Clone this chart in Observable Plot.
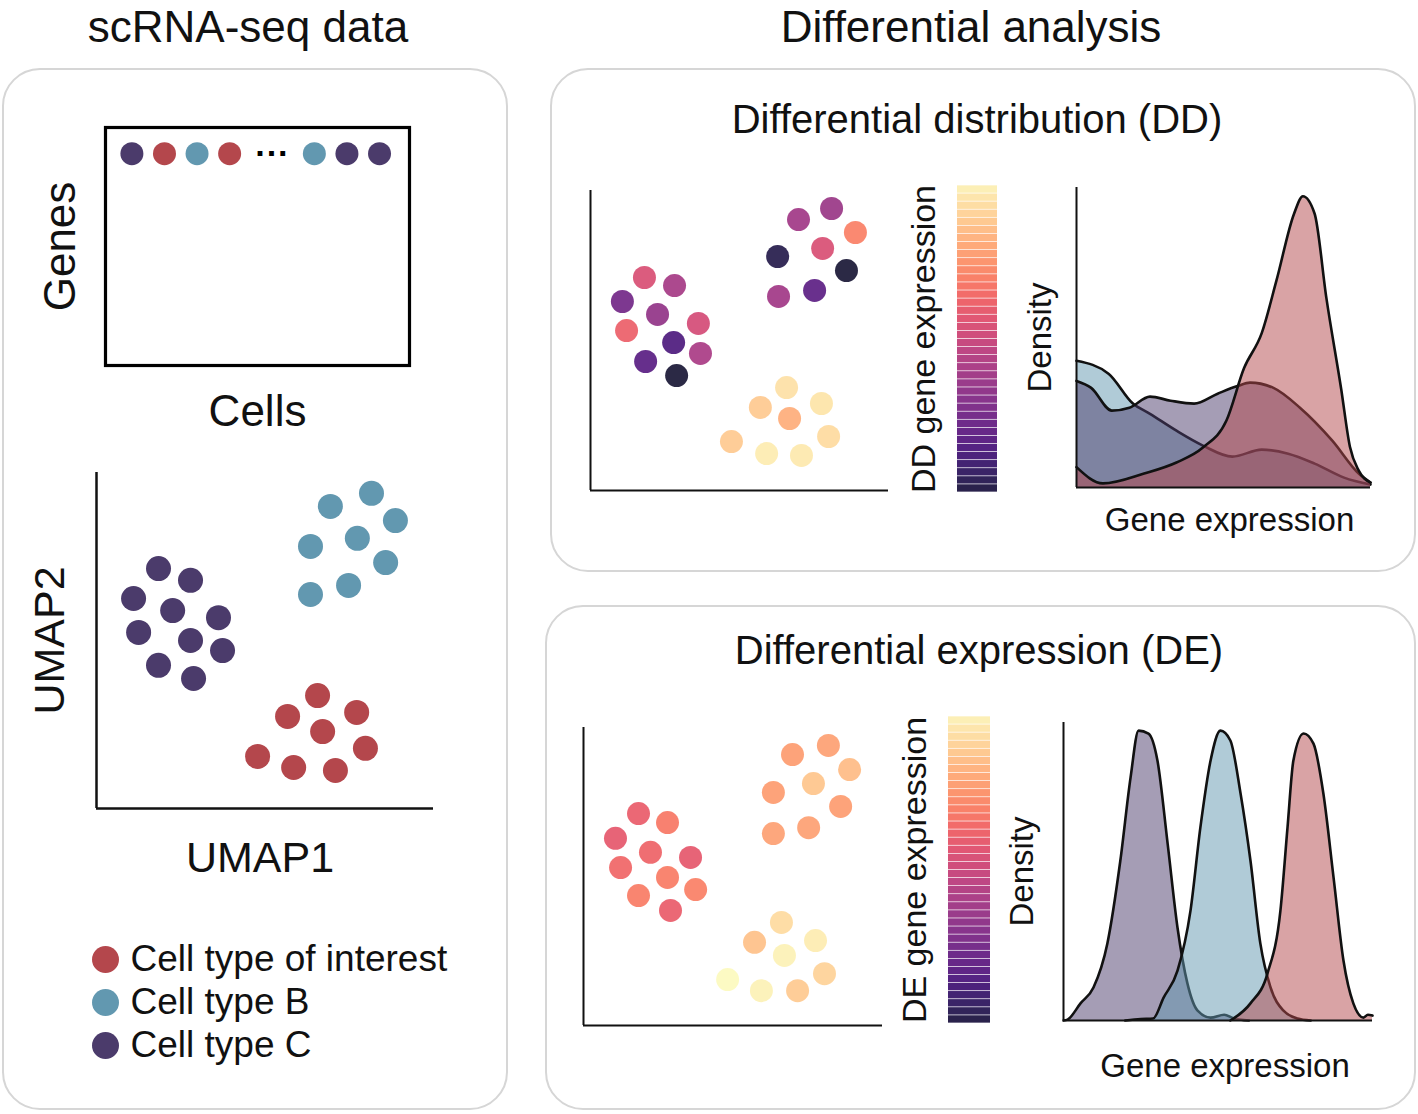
<!DOCTYPE html>
<html><head><meta charset="utf-8">
<script src="https://cdn.jsdelivr.net/npm/d3@7"></script>
<script src="https://cdn.jsdelivr.net/npm/@observablehq/plot@0.6"></script>
<style>
html,body{margin:0;padding:0;background:#fff;}
#fig{position:relative;width:1418px;height:1114px;overflow:hidden;font-family:"Liberation Sans",Arial,Helvetica,sans-serif;color:#111;background:#fff;}
.panel{position:absolute;border:2px solid #d6d6d6;border-radius:38px;box-sizing:border-box;}
.title{position:absolute;transform:translate(-50%,-50%);white-space:nowrap;line-height:1.15;}
.chart{position:absolute;}
.chart svg{overflow:visible;display:block;}
</style></head><body><div id="fig"></div>
<script>
// ---------------- data ----------------
const cellTypes = ["Cell type of interest", "Cell type B", "Cell type C"];
const cellColors = ["#b4474c", "#6298b0", "#4b3b6b"];

// first row of the gene x cell matrix
const matrixCellType = ["Cell type C", "Cell type of interest", "Cell type B", "Cell type of interest", "Cell type B", "Cell type C", "Cell type C"];
const matrixCellIndex = [0, 1, 2, 3, 5.6, 6.6, 7.6];

// UMAP embedding (arbitrary units 0-10)
const umapX = [1.84, 2.79, 1.10, 2.26, 3.62, 1.25, 2.79, 3.74, 1.84, 2.88,
               8.16, 6.94, 8.87, 6.35, 7.74, 8.58, 6.35, 7.48,
               6.56, 5.67, 7.72, 6.71, 7.98, 4.78, 5.85, 7.09];
const umapY = [7.14, 6.79, 6.25, 5.89, 5.68, 5.24, 5.00, 4.70, 4.26, 3.87,
               9.38, 8.99, 8.57, 7.80, 8.04, 7.32, 6.37, 6.64,
               3.36, 2.74, 2.86, 2.29, 1.79, 1.55, 1.22, 1.13];
const umapType = [
  "Cell type C","Cell type C","Cell type C","Cell type C","Cell type C","Cell type C","Cell type C","Cell type C","Cell type C","Cell type C",
  "Cell type B","Cell type B","Cell type B","Cell type B","Cell type B","Cell type B","Cell type B","Cell type B",
  "Cell type of interest","Cell type of interest","Cell type of interest","Cell type of interest","Cell type of interest","Cell type of interest","Cell type of interest","Cell type of interest"];

// DD panel scatter
const ddX = [1.81, 2.82, 1.07, 2.25, 3.62, 1.21, 2.79, 3.69, 1.85, 2.89,
             8.09, 6.98, 8.89, 7.79, 6.28, 8.59, 6.31, 7.52,
             6.58, 5.70, 7.75, 6.68, 7.99, 4.73, 5.91, 7.08];
const ddY = [7.10, 6.83, 6.30, 5.87, 5.57, 5.33, 4.93, 4.57, 4.30, 3.83,
             9.40, 9.03, 8.60, 8.07, 7.80, 7.33, 6.47, 6.67,
             3.43, 2.77, 2.90, 2.40, 1.80, 1.63, 1.23, 1.17];
const ddExpr = [0.58, 0.45, 0.32, 0.40, 0.57, 0.64, 0.22, 0.46, 0.25, 0.08,
                0.42, 0.44, 0.72, 0.58, 0.12, 0.08, 0.44, 0.26,
                0.93, 0.88, 0.94, 0.82, 0.92, 0.88, 0.96, 0.95];

// DE panel scatter
const deX = [1.84, 2.81, 1.07, 2.24, 3.58, 1.24, 2.81, 3.75, 1.84, 2.91,
             8.19, 6.99, 8.90, 7.69, 6.35, 8.60, 6.35, 7.53,
             6.62, 5.72, 7.76, 6.72, 8.06, 4.82, 5.95, 7.16];
const deY = [7.11, 6.81, 6.28, 5.81, 5.64, 5.30, 4.97, 4.56, 4.36, 3.86,
             9.40, 9.09, 8.59, 8.12, 7.82, 7.35, 6.44, 6.64,
             3.46, 2.79, 2.85, 2.35, 1.74, 1.54, 1.17, 1.17];
const deExpr = [0.63, 0.70, 0.62, 0.65, 0.62, 0.66, 0.71, 0.72, 0.71, 0.63,
                0.79, 0.78, 0.85, 0.87, 0.78, 0.78, 0.79, 0.79,
                0.92, 0.86, 0.96, 0.97, 0.90, 0.99, 0.97, 0.88];

// density curves [gene expression, density]
const ddDensityB = [[0,0.435],[0.11,0.39],[0.19,0.29],[0.25,0.253],[0.34,0.195],[0.43,0.144],[0.53,0.106],[0.63,0.13],[0.72,0.116],[0.81,0.082],[0.91,0.034],[1.0,0.01]];
const ddDensityC = [[0,0.366],[0.05,0.342],[0.12,0.264],[0.18,0.274],[0.25,0.312],[0.32,0.298],[0.40,0.288],[0.48,0.322],[0.55,0.349],[0.59,0.36],[0.67,0.342],[0.76,0.274],[0.87,0.161],[0.96,0.048],[1.0,0.017]];
const ddDensityInterest = [[0,0.07],[0.09,0.014],[0.23,0.048],[0.34,0.086],[0.43,0.137],[0.51,0.23],[0.57,0.41],[0.63,0.53],[0.68,0.71],[0.74,0.94],[0.77,1.0],[0.81,0.94],[0.85,0.65],[0.9,0.34],[0.93,0.14],[0.96,0.058],[1.0,0.017]];

const deDensityC = [[0,0],[0.013,0.003],[0.055,0.059],[0.097,0.114],[0.142,0.266],[0.184,0.552],[0.217,0.838],[0.243,1.0],[0.275,0.99],[0.304,0.897],[0.337,0.61],[0.369,0.32],[0.401,0.128],[0.434,0.034],[0.476,0.01],[0.52,0.02],[0.55,0.008],[0.6,0]];
const deDensityB = [[0.2,0],[0.25,0.005],[0.29,0.007],[0.324,0.079],[0.369,0.172],[0.411,0.379],[0.443,0.666],[0.476,0.897],[0.508,1.0],[0.54,0.966],[0.573,0.783],[0.605,0.552],[0.637,0.266],[0.67,0.114],[0.712,0.034],[0.757,0.007],[0.8,0]];
const deDensityInterest = [[0.54,0],[0.605,0.059],[0.66,0.162],[0.702,0.379],[0.725,0.666],[0.744,0.897],[0.777,0.99],[0.809,0.955],[0.841,0.783],[0.874,0.493],[0.906,0.207],[0.938,0.059],[0.971,0.01],[0.985,0.02],[1.0,0.017]];

// ---------------- helpers ----------------
const fig = document.getElementById("fig");
const FONT = '"Liberation Sans", Arial, Helvetica, sans-serif';
const baseStyle = {fontFamily: FONT, color: "#111", background: "transparent", overflow: "visible"};
function place(node, left, top) {
  const d = document.createElement("div");
  d.className = "chart";
  d.style.left = left + "px"; d.style.top = top + "px";
  d.appendChild(node); fig.appendChild(d);
}
function panel(left, top, w, h) {
  const d = document.createElement("div");
  d.className = "panel";
  Object.assign(d.style, {left: left + "px", top: top + "px", width: w + "px", height: h + "px"});
  fig.appendChild(d);
}
function title(text, cx, cy, size) {
  const d = document.createElement("div");
  d.className = "title"; d.textContent = text;
  Object.assign(d.style, {left: cx + "px", top: cy + "px", fontSize: size + "px"});
  fig.appendChild(d);
}
const typeColor = {domain: cellTypes, range: cellColors};
const zip = (xs, ys, zs) => xs.map((x, i) => ({x, y: ys[i], z: zs[i]}));
// axis-title helpers (centred on the frame side)
const leftLabel = (s, dx, size, dy = 0) => Plot.text([s], {frameAnchor: "left", dx, dy, rotate: -90, text: d => d, fontSize: size, textAnchor: "middle", lineAnchor: "middle"});
const bottomLabel = (s, dy, size, dx = 0) => Plot.text([s], {frameAnchor: "bottom", dx, dy, text: d => d, fontSize: size, textAnchor: "middle", lineAnchor: "middle"});

// ---------------- panels & titles ----------------
panel(2, 68, 506, 1042);
panel(550, 68, 866, 504);
panel(545, 605, 871, 505);
title("scRNA-seq data", 248, 27, 44);
title("Differential analysis", 971, 27, 44);
title("Differential distribution (DD)", 977, 119, 40);
title("Differential expression (DE)", 979, 650, 40);

// ---------------- gene x cell matrix ----------------
const matrixRow = matrixCellIndex.map((c, i) => ({c, t: matrixCellType[i]}));
place(Plot.plot({
  width: 400, height: 340, marginLeft: 85, marginRight: 11, marginTop: 17, marginBottom: 85,
  style: baseStyle,
  x: {domain: [-0.81, 8.52], axis: null},
  y: {domain: [0, 1], reverse: true, axis: null},
  color: typeColor,
  marks: [
    Plot.frame({stroke: "#000", strokeWidth: 3.2}),
    Plot.dot(matrixRow, {x: "c", y: () => 0.11, fill: "t", r: 11.5}),
    Plot.text(["···"], {x: () => 4.31, y: () => 0.11, text: d => d, fontSize: 34, fontWeight: "bold", fill: "#000"}),
    bottomLabel("Cells", 46, 44),
    leftLabel("Genes", -45, 44)
  ]
}), 20, 110);

// ---------------- UMAP ----------------
place(Plot.plot({
  width: 440, height: 420, marginLeft: 76, marginRight: 27, marginTop: 12, marginBottom: 72,
  style: baseStyle,
  x: {domain: [0, 10], axis: null}, y: {domain: [0, 10], axis: null},
  color: typeColor,
  marks: [
    Plot.ruleX([0], {stroke: "#111", strokeWidth: 2.5}),
    Plot.ruleY([0], {stroke: "#111", strokeWidth: 2.5}),
    Plot.dot(zip(umapX, umapY, umapType), {x: "x", y: "y", fill: "z", r: 12.5}),
    bottomLabel("UMAP1", 50, 43, -5),
    leftLabel("UMAP2", -46, 43)
  ]
}), 20, 460);

// ---------------- legend ----------------
place(Plot.plot({
  width: 400, height: 140, marginLeft: 25, marginRight: 10, marginTop: 28, marginBottom: 25,
  style: baseStyle,
  x: {domain: [0, 1], axis: null},
  y: {type: "point", domain: cellTypes, padding: 0, axis: null},
  color: typeColor,
  marks: [
    Plot.dot(cellTypes, {x: () => 0, y: d => d, fill: d => d, r: 13.5}),
    Plot.text(cellTypes, {x: () => 0, y: d => d, text: d => d, dx: 25, textAnchor: "start", fontSize: 37})
  ]
}), 80, 930);

// ---------------- expression scatter + colorbar ----------------
const magma = {type: "linear", scheme: "magma", domain: [0, 1]};
function exprScatter(xs, ys, vs, w, h, m) {
  return Plot.plot({
    width: w, height: h, ...m, style: baseStyle,
    x: {domain: [0, 10], axis: null}, y: {domain: [0, 10], axis: null},
    color: magma,
    marks: [
      Plot.ruleX([0], {stroke: "#111", strokeWidth: 2}),
      Plot.ruleY([0], {stroke: "#111", strokeWidth: 2}),
      Plot.dot(zip(xs, ys, vs), {x: "x", y: "y", fill: "z", r: 11.5, fillOpacity: 0.88})
    ]
  });
}
function colorbar(label, w, h, m, dx) {
  const n = 38;
  const bands = d3.range(n).map(i => ({lo: i / n, hi: (i + 1) / n, v: 0.1 + 0.88 * (i + 0.5) / n}));
  return Plot.plot({
    width: w, height: h, ...m, style: baseStyle,
    x: {domain: [0, 1], axis: null}, y: {domain: [0, 1], axis: null},
    color: magma,
    marks: [
      Plot.rect(bands, {x1: () => 0, x2: () => 1, y1: "lo", y2: "hi", fill: "v", fillOpacity: 0.92, insetTop: 0.35, insetBottom: 0.35}),
      leftLabel(label, dx, 34)
    ]
  });
}
place(exprScatter(ddX, ddY, ddExpr, 330, 330, {marginLeft: 20, marginRight: 12, marginTop: 15, marginBottom: 15}), 570, 175);
place(colorbar("DD gene expression", 110, 320, {marginLeft: 62, marginRight: 8, marginTop: 5, marginBottom: 8}, -33), 895, 180);
place(exprScatter(deX, deY, deExpr, 330, 330, {marginLeft: 18, marginRight: 13, marginTop: 15, marginBottom: 17}), 565, 712);
place(colorbar("DE gene expression", 110, 320, {marginLeft: 63, marginRight: 5, marginTop: 5, marginBottom: 8}, -33), 885, 711);

// ---------------- density plots ----------------
function densityPlot(series, w, h, m, ymax, dxLabel, dyLabel, dxBottom) {
  const marks = [];
  for (const [data, type] of series) {
    marks.push(Plot.areaY(data, {x: d => d[0], y: d => d[1], fill: () => type, fillOpacity: 0.5, curve: "monotone-x"}));
    marks.push(Plot.lineY(data, {x: d => d[0], y: d => d[1], stroke: "#111", strokeWidth: 2.6, curve: "monotone-x"}));
  }
  return Plot.plot({
    width: w, height: h, ...m, style: baseStyle,
    x: {domain: [0, 1], axis: null}, y: {domain: [0, ymax], axis: null},
    color: typeColor,
    marks: [
      ...marks,
      Plot.ruleX([0], {stroke: "#111", strokeWidth: 2}),
      Plot.ruleY([0], {stroke: "#111", strokeWidth: 2}),
      leftLabel("Density", dxLabel, 33),
      bottomLabel("Gene expression", dyLabel, 33, dxBottom)
    ]
  });
}
place(densityPlot([[ddDensityB, "Cell type B"], [ddDensityC, "Cell type C"], [ddDensityInterest, "Cell type of interest"]],
  380, 370, {marginLeft: 66, marginRight: 20, marginTop: 7, marginBottom: 63}, 1.03, -36, 33, 6), 1010, 180);
place(densityPlot([[deDensityC, "Cell type C"], [deDensityB, "Cell type B"], [deDensityInterest, "Cell type of interest"]],
  390, 370, {marginLeft: 63, marginRight: 18, marginTop: 7, marginBottom: 65}, 1.028, -41, 46, 7), 1000, 715);
</script></body></html>
